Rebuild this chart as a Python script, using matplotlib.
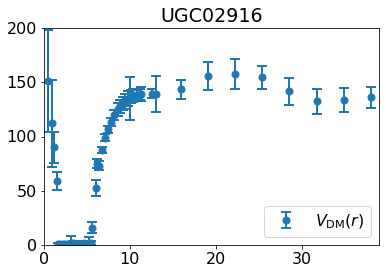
import numpy as np
import matplotlib.pyplot as plt

plt.rcParams['font.size'] = 16

# Rotation curve data
r = [0.47, 0.9, 1.17, 1.55,
     1.6, 1.9, 2.2, 2.5, 2.8, 3.1, 3.4, 3.7, 4.0, 4.3, 4.6, 4.9, 5.2, 5.5,
     5.6, 6.0, 6.2, 6.45, 6.8, 7.1, 7.5, 7.8, 8.2, 8.65, 8.9, 9.15, 9.4,
     9.8, 10.0, 10.1, 10.4, 10.8, 11.2, 11.35, 12.6, 13.0,
     15.9, 19.1, 22.25, 25.4, 28.5, 31.8, 34.9, 38.05]
v_dm = [151, 112, 90, 59,
        0.5, 0.8, 1.0, 1.2, 1.0, 2.0, 1.5, 1.2, 1.0, 1.3, 1.5, 1.2, 1.5, 1.8,
        16, 52.5, 75, 73, 87.5, 99, 106.5, 113.5, 120, 125, 128, 130.5, 132.5,
        135, 135, 137, 138, 138, 138.5, 139, 139.5, 139.5,
        143.5, 155.8, 157.3, 154.8, 141.6, 132.4, 133.3, 136]
v_err = [47, 40, 14, 8,
         1.5, 1.5, 2, 2, 2, 6.5, 2, 2, 2, 2, 2, 2, 6, 2,
         5, 7.5, 4, 4, 3, 3, 3.5, 4, 4.5, 6, 6, 6, 7,
         7, 20, 6, 6, 5, 5, 6.5, 4, 16.5,
         8.5, 13.2, 13.8, 10.6, 12.7, 11.3, 11, 10]

fig, ax = plt.subplots(figsize=(386 / 72, 274 / 72), dpi=72)
fig.subplots_adjust(left=44 / 386, right=379 / 386, top=1 - 28 / 274, bottom=1 - 245 / 274)

ax.errorbar(r, v_dm, yerr=v_err, fmt='o', color='#1f77b4', markersize=7,
            elinewidth=2, capsize=5, capthick=2, label=r'$V_{\rm DM}(r)$')

ax.set_xlim(0, 39)
ax.set_ylim(0, 200)
ax.set_xticks([0, 10, 20, 30])
ax.set_yticks([0, 50, 100, 150, 200])
ax.set_title("UGC02916", fontsize=19)
ax.legend(loc="lower right", fontsize=16)

plt.savefig("out.png", dpi=72)
